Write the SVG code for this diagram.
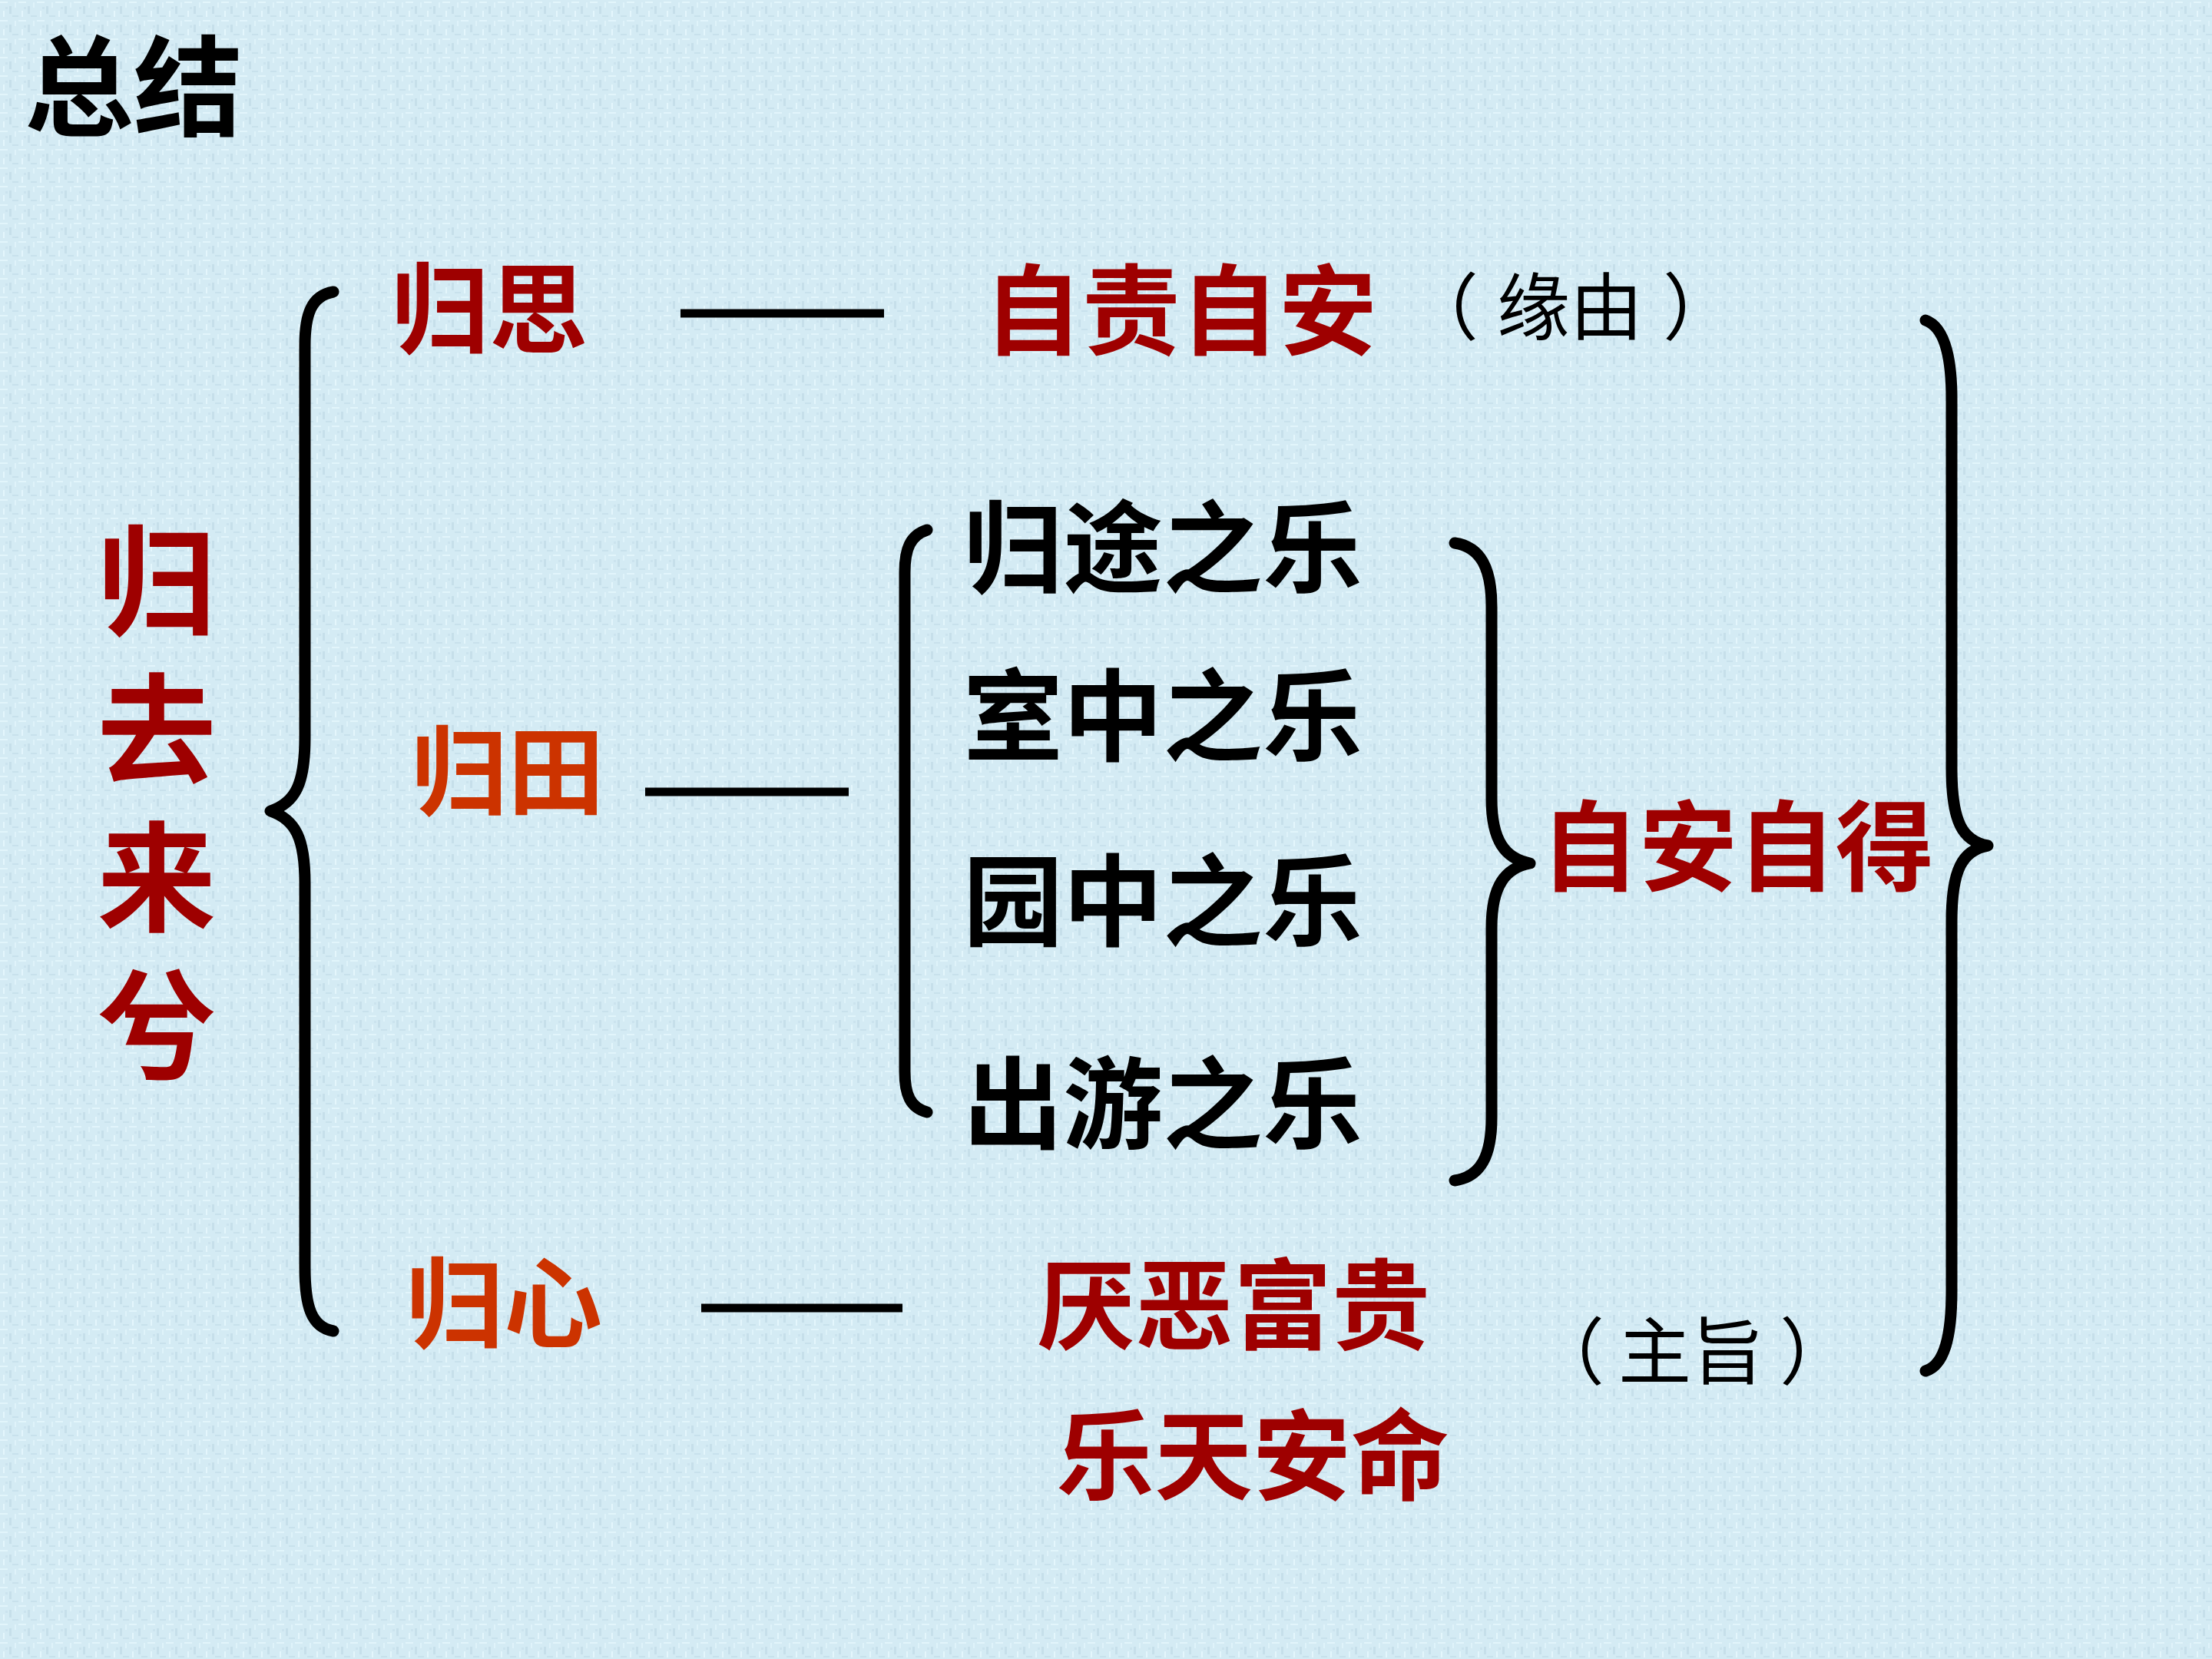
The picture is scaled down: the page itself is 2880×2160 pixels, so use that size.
<svg xmlns="http://www.w3.org/2000/svg" width="2880" height="2160" viewBox="0 0 2880 2160">
<defs>
<pattern id="tex" width="24" height="24" patternUnits="userSpaceOnUse">
<rect width="24" height="24" fill="#d4ebf4"/>
<rect x="0" y="2" width="10" height="2" fill="#e2f5fb"/>
<rect x="12" y="8" width="3" height="10" fill="#c6dfea"/>
<rect x="4" y="14" width="2" height="8" fill="#e4f6fc"/>
<rect x="16" y="20" width="8" height="2" fill="#c8e1ec"/>
<rect x="19" y="3" width="2" height="7" fill="#dff3fa"/>
<rect x="7" y="9" width="3" height="3" fill="#cbe3ee"/>
</pattern>
<style>
.b{font-family:"Noto Sans CJK SC","Noto Sans",sans-serif;font-weight:700}
.r{font-family:"Noto Sans CJK SC","Noto Sans",sans-serif;font-weight:400;fill:#000}
.dk{fill:#9e0000}
.or{fill:#cc3300}
.bk{fill:#000}
.vert{writing-mode:vertical-rl;text-orientation:upright;letter-spacing:38px}
.brace{fill:none;stroke:#000;stroke-width:15;stroke-linecap:round;stroke-linejoin:round}
.dash{stroke:#000;stroke-width:11}
</style>
</defs>
<rect width="2880" height="2160" fill="url(#tex)"/>

<g id="title"><text class="b bk" x="32" y="166" font-size="142">总结</text></g>

<g id="guiqulaixi">
<text class="b dk vert" x="204" y="678" font-size="155">归去来兮</text>
</g>

<g id="connectors">
<path class="brace" d="M434,380 C405,385 397,410 397,450 L397,960 C397,1020 385,1045 352,1056 C385,1067 397,1092 397,1150 L397,1650 C397,1700 405,1728 434,1733"/>
<path class="brace" stroke-width="13" d="M1207,690 C1185,697 1178,715 1178,745 L1178,1395 C1178,1425 1185,1442 1207,1448"/>
<path class="brace" stroke-width="14" d="M1894,707 C1928,712 1942,740 1942,790 L1942,1040 C1942,1095 1960,1118 1992,1124 C1960,1130 1942,1153 1942,1208 L1942,1455 C1942,1505 1928,1532 1894,1537"/>
<path class="brace" d="M2507,417 C2530,425 2541,460 2541,520 L2541,1000 C2541,1070 2555,1095 2588,1101 C2555,1107 2541,1132 2541,1200 L2541,1680 C2541,1745 2530,1778 2507,1785"/>
<line class="dash" x1="886" y1="408" x2="1151" y2="408"/>
<line class="dash" x1="840" y1="1031" x2="1105" y2="1031"/>
<line class="dash" x1="913" y1="1703" x2="1175" y2="1703"/>
</g>

<g id="guisi"><text class="b dk" x="509" y="450" font-size="128">归思</text></g>
<g id="zizeizian"><text class="b dk" x="1281" y="452" font-size="128">自责自安</text></g>
<g id="yuanyou"><text class="r" x="1830" y="435" font-size="95">（<tspan dx="24">缘由</tspan><tspan dx="26">）</tspan></text></g>

<g id="guitian"><text class="b or" x="535" y="1051" font-size="126">归田</text></g>
<g id="le1"><text class="b bk" x="1254" y="761" font-size="130">归途之乐</text></g>
<g id="le2"><text class="b bk" x="1254" y="980" font-size="130">室中之乐</text></g>
<g id="le3"><text class="b bk" x="1254" y="1221" font-size="130">园中之乐</text></g>
<g id="le4"><text class="b bk" x="1254" y="1485" font-size="130">出游之乐</text></g>
<g id="ziandezi"><text class="b dk" x="2006" y="1150" font-size="128">自安自得</text></g>

<g id="guixin"><text class="b or" x="528" y="1745" font-size="128">归心</text></g>
<g id="yanwu"><text class="b dk" x="1350" y="1747" font-size="128">厌恶富贵</text></g>
<g id="letian"><text class="b dk" x="1375" y="1943" font-size="128">乐天安命</text></g>
<g id="zhuzhi"><text class="r" x="1994" y="1795" font-size="95">（<tspan dx="18">主旨</tspan><tspan dx="20">）</tspan></text></g>
</svg>
